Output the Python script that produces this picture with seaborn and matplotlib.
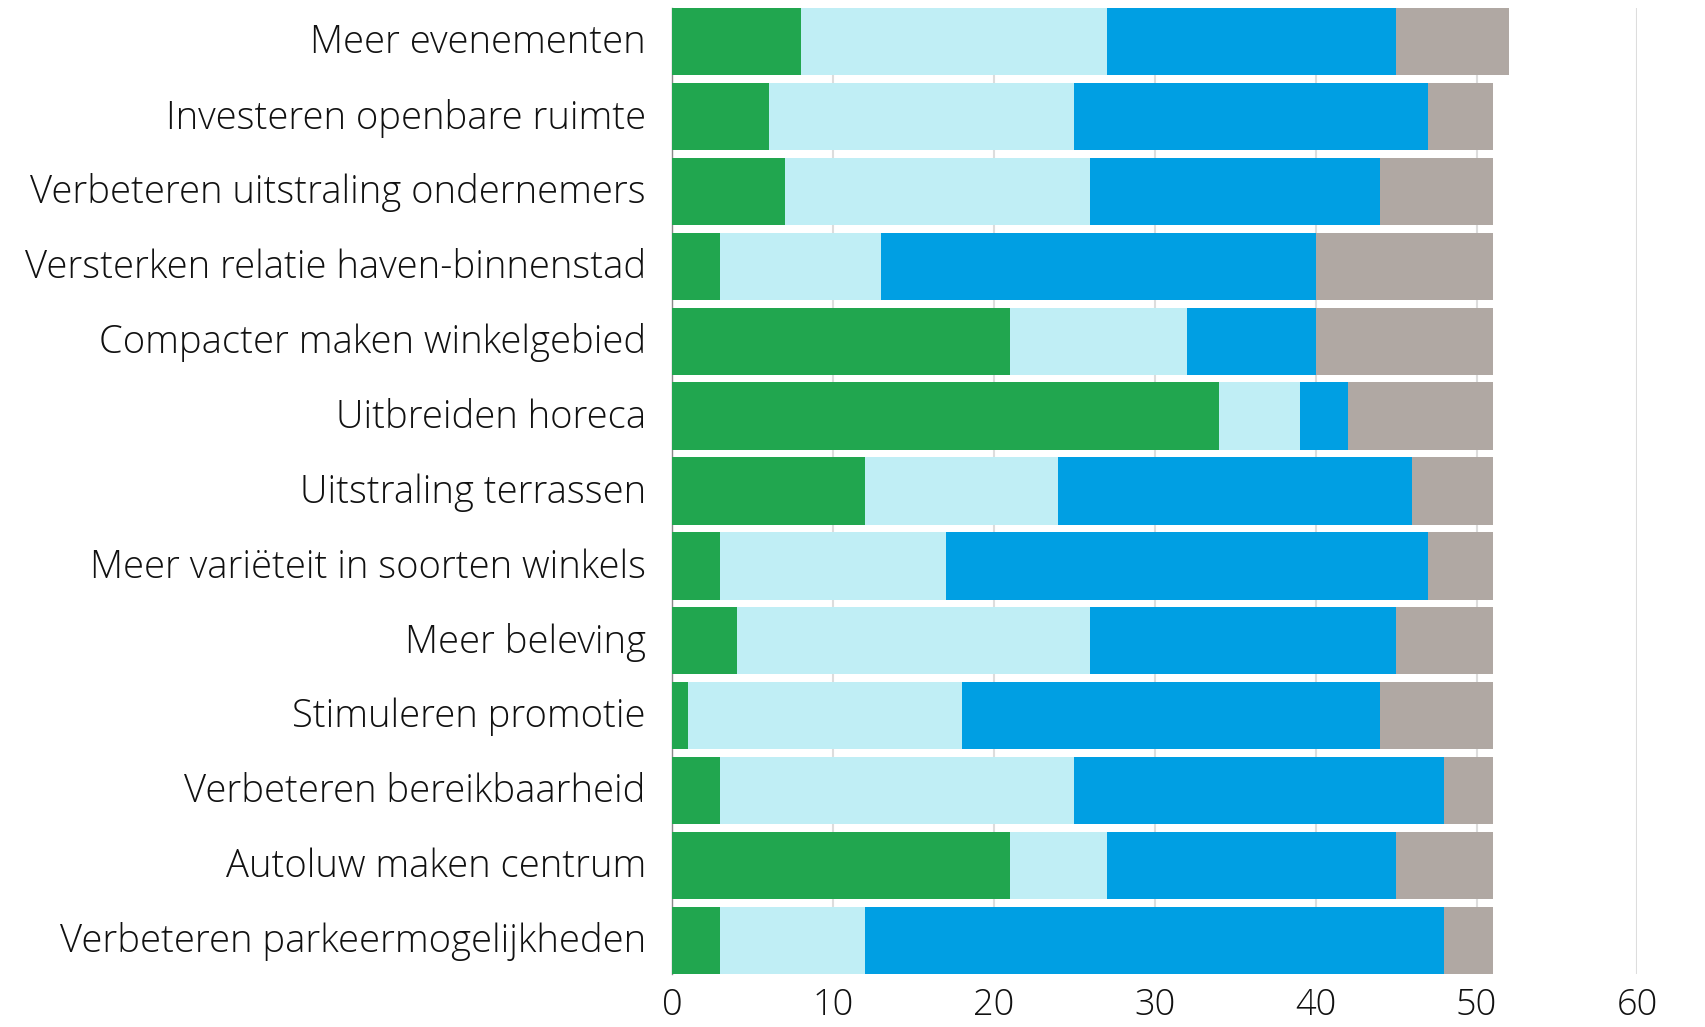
import matplotlib
matplotlib.use("Agg")
import matplotlib.pyplot as plt
import matplotlib.transforms as mtransforms
import numpy as np
import pandas as pd
import seaborn as sns

categories = [
    "Meer evenementen",
    "Investeren openbare ruimte",
    "Verbeteren uitstraling ondernemers",
    "Versterken relatie haven-binnenstad",
    "Compacter maken winkelgebied",
    "Uitbreiden horeca",
    "Uitstraling terrassen",
    "Meer variëteit in soorten winkels",
    "Meer beleving",
    "Stimuleren promotie",
    "Verbeteren bereikbaarheid",
    "Autoluw maken centrum",
    "Verbeteren parkeermogelijkheden",
]
green = [8, 6, 7, 3, 21, 34, 12, 3, 4, 1, 3, 21, 3]
light_blue = [19, 19, 19, 10, 11, 5, 12, 14, 22, 17, 22, 6, 9]
blue = [18, 22, 18, 27, 8, 3, 22, 30, 19, 26, 23, 18, 36]
grey = [7, 4, 7, 11, 11, 9, 5, 4, 6, 7, 3, 6, 3]
x_ticks = [0, 10, 20, 30, 40, 50, 60]

colors = ["#21a64f", "#c0eef5", "#009fe3", "#b0a8a3"]

df = pd.DataFrame({"cat": categories, "s1": green, "s2": light_blue, "s3": blue, "s4": grey})
# cumulative sums, drawn from the longest down so the shorter ones sit on top
cum = df[["s1", "s2", "s3", "s4"]].cumsum(axis=1)
cum["cat"] = df["cat"]

sns.set_style("white")
plt.rcParams["font.family"] = ["Open Sans", "DejaVu Sans"]

fig = plt.figure(figsize=(17.06, 10.27), dpi=100)
ax = fig.add_axes([0.394, 0.0516, 0.5658, 0.9406])

for col, c in zip(["s4", "s3", "s2", "s1"], colors[::-1]):
    sns.barplot(data=cum, y="cat", x=col, color=c, orient="h", width=0.9,
                linewidth=0, saturation=1, ax=ax, zorder=3)

ax.set_xlim(0, 60)
ax.set_ylim(len(categories) - 0.55, -0.45)
ax.set_xticks(x_ticks)
ax.grid(axis="x", color="#dddddd", linewidth=1.5, zorder=0)
ax.grid(axis="y", visible=False)
for s in ["top", "right", "bottom"]:
    ax.spines[s].set_visible(False)
ax.spines["left"].set_color("#888888")
ax.spines["left"].set_linewidth(1)
ax.set_xlabel("")
ax.set_ylabel("")
ax.tick_params(axis="y", length=0, pad=19, labelsize=27.5)
ax.tick_params(axis="x", length=0, pad=9, labelsize=26)
shift = mtransforms.ScaledTranslation(0, 3 / 100, fig.dpi_scale_trans)
for lab in ax.get_yticklabels():
    lab.set_fontweight("light")
    lab.set_color("#111111")
    lab.set_transform(lab.get_transform() + shift)
for lab in ax.get_xticklabels():
    lab.set_fontweight("light")
    lab.set_color("#111111")

fig.savefig("out.png", dpi=100)
